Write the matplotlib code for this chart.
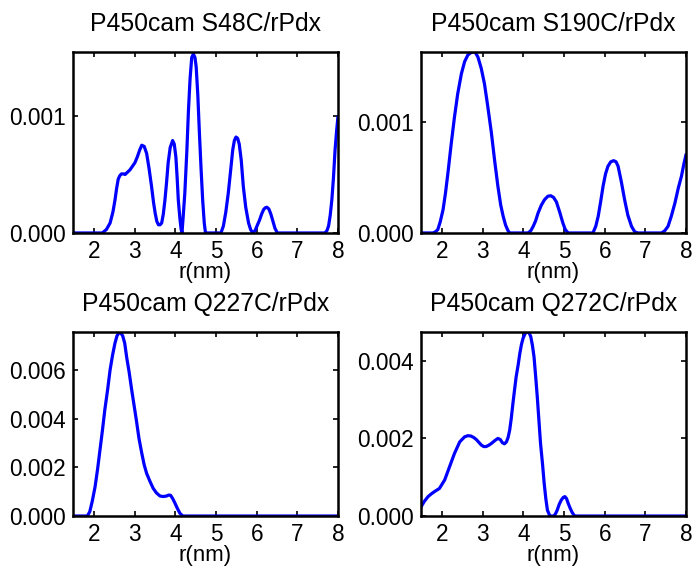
import matplotlib
matplotlib.use("Agg")
import matplotlib.pyplot as plt
from matplotlib.ticker import FormatStrFormatter

plt.rcParams['font.family'] = ['Liberation Sans', 'DejaVu Sans']

titles = ['P450cam S48C/rPdx', 'P450cam S190C/rPdx',
          'P450cam Q227C/rPdx', 'P450cam Q272C/rPdx']

# distance distributions, r in nm
r_s48 = [1.5, 2.2, 2.3, 2.39, 2.46, 2.51, 2.55, 2.59, 2.63, 2.67, 2.72, 2.76, 2.82, 2.88,
         2.94, 3.0, 3.06, 3.12, 3.17, 3.23, 3.29, 3.35, 3.41, 3.46, 3.5, 3.54, 3.58,
         3.62, 3.66, 3.7, 3.74, 3.78, 3.82, 3.87, 3.93, 3.97, 4.01, 4.04, 4.07, 4.11,
         4.14, 4.16, 4.19, 4.23, 4.28, 4.32, 4.36, 4.4, 4.44, 4.48, 4.51, 4.55, 4.59,
         4.63, 4.67, 4.71, 4.74, 5.12, 5.18, 5.24, 5.3, 5.36, 5.41, 5.45, 5.49, 5.53,
         5.57, 5.62, 5.67, 5.73, 5.8, 5.85, 5.9, 5.96, 6.02, 6.07, 6.12, 6.17, 6.21,
         6.25, 6.3, 6.35, 6.4, 6.45, 6.51, 7.68, 7.73, 7.77, 7.81, 7.85, 7.89, 7.93,
         7.97, 8.0]
p_s48 = [0.0, 0.0, 0.00003, 0.000085, 0.00018, 0.00028, 0.00038, 0.00046, 0.00049,
         0.000505, 0.000505, 0.0005, 0.00052, 0.00054, 0.00057, 0.0006, 0.00065, 0.00071,
         0.00075, 0.00074, 0.00068, 0.00055, 0.0004, 0.00026, 0.00017, 0.0001, 0.00007,
         0.00007, 0.000085, 0.00016, 0.00028, 0.00043, 0.0006, 0.00073, 0.00079, 0.00076,
         0.00065, 0.00048, 0.00028, 0.00012, 0.00003, 0.0, 0.00014, 0.00034, 0.0007,
         0.00105, 0.00132, 0.0015, 0.00153, 0.0015, 0.00142, 0.00118, 0.00085, 0.00055,
         0.00028, 0.00008, 0.0, 0.0, 0.00006, 0.00018, 0.00034, 0.00054, 0.00071, 0.00079,
         0.00082, 0.00081, 0.00076, 0.00062, 0.0004, 0.00022, 0.000085, 0.00003, 0.0,
         0.00002, 0.00007, 0.00011, 0.00016, 0.0002, 0.000215, 0.00022, 0.000205,
         0.00016, 0.0001, 0.00004, 0.0, 0.0, 0.00002, 0.00006, 0.00015, 0.00028, 0.00047,
         0.00071, 0.00088, 0.00099]

r_s190 = [1.5, 1.77, 1.83, 1.89, 1.95, 2.02, 2.08, 2.14, 2.22, 2.3, 2.38, 2.47, 2.55,
          2.63, 2.7, 2.76, 2.82, 2.88, 2.96, 3.04, 3.12, 3.21, 3.29, 3.37, 3.44, 3.5,
          3.56, 3.62, 3.66, 4.11, 4.18, 4.24, 4.3, 4.36, 4.44, 4.52, 4.6, 4.67, 4.74,
          4.81, 4.89, 4.97, 5.03, 5.1, 5.71, 5.78, 5.84, 5.9, 5.96, 6.02, 6.08, 6.15,
          6.22, 6.28, 6.33, 6.41, 6.49, 6.57, 6.66, 6.74, 6.82, 7.4, 7.48, 7.56, 7.64,
          7.73, 7.81, 7.89, 7.95, 8.0]
p_s190 = [0.0, 0.0, 0.00001, 0.00003, 0.0001, 0.00021, 0.00036, 0.00054, 0.0008,
          0.00104, 0.00125, 0.00143, 0.00154, 0.0016, 0.00162, 0.00163, 0.00162, 0.00158,
          0.00148, 0.00134, 0.00114, 0.0009, 0.00065, 0.00042, 0.00025, 0.00015, 0.00007,
          0.00002, 0.0, 0.0, 0.00002, 0.00006, 0.00011, 0.00018, 0.00025, 0.0003,
          0.00033, 0.000335, 0.00032, 0.00028, 0.00019, 0.00009, 0.00003, 0.0, 0.0,
          0.00006, 0.00015, 0.00028, 0.00042, 0.00053, 0.0006, 0.00064, 0.00065, 0.00064,
          0.0006, 0.00046, 0.0003, 0.00016, 0.00006, 0.00001, 0.0, 0.0, 0.00002, 0.00006,
          0.00015, 0.00027, 0.0004, 0.00051, 0.00062, 0.0007]

r_q227 = [1.5, 1.83, 1.89, 1.95, 2.02, 2.08, 2.14, 2.2, 2.26, 2.33, 2.39, 2.45, 2.51,
          2.56, 2.61, 2.66, 2.7, 2.75, 2.8, 2.86, 2.92, 2.98, 3.04, 3.1, 3.17, 3.23,
          3.29, 3.37, 3.45, 3.53, 3.62, 3.7, 3.78, 3.83, 3.88, 3.93, 3.99, 4.05, 4.11,
          4.18, 8.0]
p_q227 = [0.0, 0.0, 0.00018, 0.0006, 0.0012, 0.0019, 0.0027, 0.0035, 0.00436, 0.0052,
          0.006, 0.0066, 0.0071, 0.0074, 0.00753, 0.0075, 0.0074, 0.0071, 0.0065, 0.0059,
          0.0052, 0.00455, 0.0039, 0.0032, 0.00258, 0.0021, 0.00175, 0.00143, 0.00114,
          0.00095, 0.00082, 0.0008, 0.00082, 0.00086, 0.00085, 0.00072, 0.00052, 0.0003,
          0.00011, 0.0, 0.0]

r_q272 = [1.48, 1.56, 1.65, 1.73, 1.81, 1.93, 2.06, 2.18, 2.3, 2.43, 2.55, 2.63, 2.71,
          2.78, 2.84, 2.9, 2.96, 3.02, 3.08, 3.14, 3.21, 3.29, 3.37, 3.43, 3.48, 3.53,
          3.58, 3.62, 3.66, 3.7, 3.74, 3.78, 3.82, 3.87, 3.91, 3.95, 3.99, 4.04, 4.09,
          4.14, 4.18, 4.22, 4.26, 4.3, 4.34, 4.38, 4.42, 4.47, 4.51, 4.55, 4.59, 4.65,
          4.75, 4.79, 4.83, 4.88, 4.93, 4.98, 5.02, 5.06, 5.1, 5.15, 5.2, 5.26, 8.0]
p_q272 = [0.00024, 0.00038, 0.0005, 0.00057, 0.00063, 0.00071, 0.00093, 0.00127,
          0.00161, 0.00191, 0.00204, 0.00207, 0.00206, 0.00202, 0.00197, 0.0019, 0.00183,
          0.00179, 0.00179, 0.00182, 0.00187, 0.00194, 0.002, 0.00197, 0.00189, 0.00186,
          0.00191, 0.00202, 0.00221, 0.00252, 0.0029, 0.00325, 0.00359, 0.0039, 0.00419,
          0.00442, 0.00458, 0.0047, 0.00475, 0.00472, 0.00462, 0.0044, 0.0041, 0.0036,
          0.00307, 0.00247, 0.00187, 0.00133, 0.00084, 0.00045, 0.00015, 0.0, 0.0, 0.00006,
          0.00015, 0.0003, 0.00041, 0.00048, 0.0005, 0.00045, 0.00033, 0.0002, 0.00009,
          0.0, 0.0]

curves = [(r_s48, p_s48), (r_s190, p_s190), (r_q227, p_q227), (r_q272, p_q272)]
ymax = [0.00155, 0.00163, 0.00757, 0.00475]
yticks = [[0, 0.001], [0, 0.001], [0, 0.002, 0.004, 0.006], [0, 0.002, 0.004]]
xticks = [2, 3, 4, 5, 6, 7, 8]

fig = plt.figure(figsize=(6.96, 5.71), dpi=100)
boxes = [[0.1045, 0.592, 0.381, 0.3175], [0.6045, 0.592, 0.381, 0.3175],
         [0.1045, 0.0963, 0.381, 0.3228], [0.6045, 0.0963, 0.381, 0.3228]]

for i in range(4):
    ax = fig.add_axes(boxes[i])
    r, p = curves[i]
    ax.plot(r, p, color='#0000ff', lw=2.3)
    ax.set_xlim(1.47, 8.0)
    ax.set_ylim(0, ymax[i])
    ax.set_xticks(xticks)
    ax.set_yticks(yticks[i])
    ax.yaxis.set_major_formatter(FormatStrFormatter('%.3f'))
    ax.tick_params(direction='in', length=3.5, width=1.2, top=True, right=True,
                   labelsize=16.3, pad=5)
    for s in ax.spines.values():
        s.set_linewidth(1.8)
    ax.set_title(titles[i], fontsize=17.8, pad=15)
    ax.set_xlabel('r(nm)', fontsize=16, labelpad=-1)

fig.savefig('out.png', dpi=100)
